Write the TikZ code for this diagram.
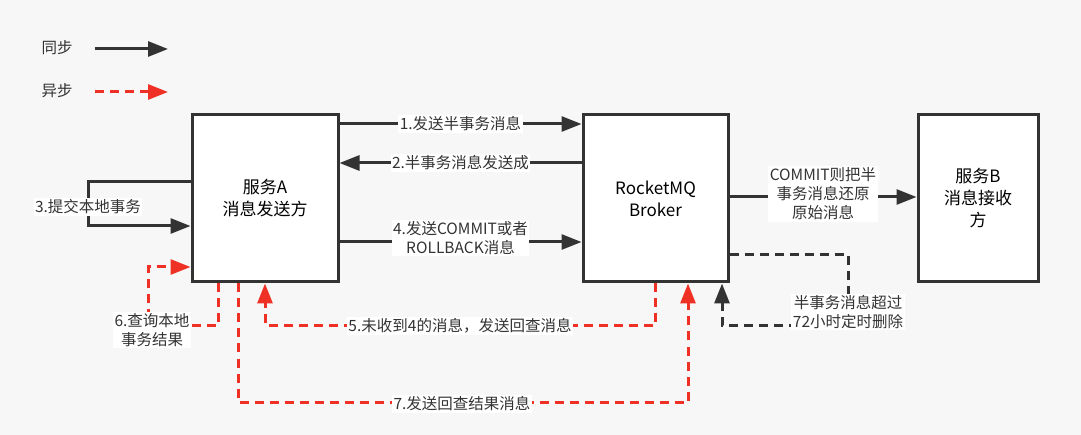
\documentclass[tikz,border=0pt]{standalone}
\usepackage{fontspec}
\setmainfont{Noto Sans CJK SC}
\usetikzlibrary{arrows.meta}
\definecolor{ink}{HTML}{333333}
\definecolor{ared}{HTML}{EE3124}
\tikzset{
  box/.style={draw=ink, line width=3pt, fill=white, minimum height=167pt, align=center, font=\fontsize{17}{22}\selectfont},
  sync/.style={draw=ink, line width=3pt, -{Triangle[length=20pt,width=15pt]}},
  async/.style={draw=ared, line width=3pt, dash pattern=on 9pt off 6pt, -{Triangle[length=20pt,width=15pt]}},
  tback/.style={draw=ink, line width=3pt, dash pattern=on 9pt off 6pt, -{Triangle[length=20pt,width=15pt]}},
  lbl/.style={fill=white, inner sep=1.5pt, align=center, text=ink, font=\fontsize{15.5}{19}\selectfont}
}
\begin{document}
\begin{tikzpicture}[x=1pt, y=-1pt]
\useasboundingbox[fill=black!3] (0,0) rectangle (1081,435);
% legend
\node[lbl, fill=none] (lsync) at (57,48) {同步};
\node[lbl, fill=none] (lasync) at (57,91) {异步};
\coordinate (ls1) at (95,49); \coordinate (ls2) at (168,49);
\coordinate (la1) at (95,92); \coordinate (la2) at (168,92);
\draw[sync] (ls1) -- (ls2);
\draw[async] (la1) -- (la2);
% boxes
\node[box, minimum width=146pt] (A) at (265,198.5) {服务A\\消息发送方};
\node[box, minimum width=145pt] (MQ) at (655.5,198.5) {RocketMQ\\Broker};
\node[box, minimum width=120pt] (B) at (978,198.5) {服务B\\消息接收\\方};
% synchronous steps
\draw[sync] (A.east |- 0,124) -- (MQ.west |- 0,124) node[lbl, midway] (s1) {1.发送半事务消息};
\draw[sync] (MQ.west |- 0,163) -- (A.east |- 0,163) node[lbl, midway] (s2) {2.半事务消息发送成};
\draw[sync] (A.east |- 0,242) -- (MQ.west |- 0,242) node[lbl, midway, yshift=4pt] (s4) {4.发送COMMIT或者\\ROLLBACK消息};
\draw[sync] (MQ.east |- 0,197) -- (B.west |- 0,197) node[lbl, midway, yshift=3pt] (sb) {COMMIT则把半\\事务消息还原\\原始消息};
\draw[sync] (A.west |- 0,182) -- (88,182) -- (88,226) -- (A.west |- 0,226);
\node[lbl] (s3) at (88,207) {3.提交本地事务};
% timeout delete
\draw[tback] (MQ.east |- 0,255) -- (848,255) -- (848,326) -- (722,326) -- (MQ.south -| 722,0);
\node[lbl] (sdel) at (848,312) {半事务消息超过\\72小时定时删除};
% asynchronous steps
\draw[async] (MQ.south -| 655,0) -- (655,326) -- (265,326) -- (A.south -| 265,0);
\node[lbl] (s5) at (460,326) {5.未收到4的消息，发送回查消息};
\draw[async] (A.south -| 218,0) -- (218,326) -- (148,326) -- (148,267) -- (A.west |- 0,267);
\node[lbl] (s6) at (152,330) {6.查询本地\\事务结果};
\draw[async] (A.south -| 238,0) -- (238,402) -- (688,402) -- (MQ.south -| 688,0);
\node[lbl] (s7) at (462,404) {7.发送回查结果消息};
\end{tikzpicture}
\end{document}
